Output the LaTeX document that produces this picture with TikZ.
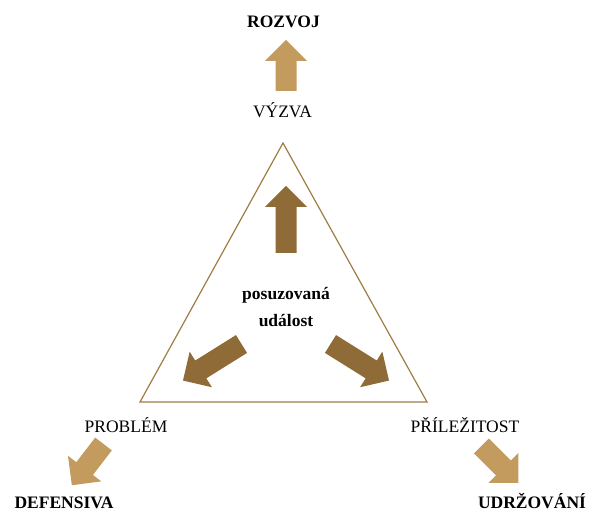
\documentclass[tikz,border=0pt]{standalone}
\usepackage{fontspec}
\setmainfont{Liberation Serif}
\definecolor{darkbr}{HTML}{8E6B37}
\definecolor{lightbr}{HTML}{C49B5E}
\definecolor{lineb}{HTML}{A07C45}
\newcommand\blockarr[5]{\fill[#5, shift={(#1,#2)}, rotate=#3] (0,-10.5) -- (#4-21,-10.5) -- (#4-21,-21) -- (#4,0) -- (#4-21,21) -- (#4-21,10.5) -- (0,10.5) -- cycle;}
\begin{document}
\begin{tikzpicture}[x=1pt,y=1pt,
  lbl/.style={anchor=base, inner sep=0pt, font=\fontsize{17.5}{20}\selectfont},
  blbl/.style={lbl, font=\fontsize{17.5}{20}\selectfont\bfseries}]
\useasboundingbox (0,0) rectangle (592,513);
\draw[lineb, line width=1.2pt, line join=miter] (283,370) coordinate (top) -- (140,111) coordinate (bl) -- (427,111) coordinate (br) -- cycle;
\blockarr{286}{422}{90}{51}{lightbr}
\blockarr{286}{260}{90}{67}{darkbr}
\blockarr{241.5}{169}{212}{69}{darkbr}
\blockarr{330.5}{169}{-32}{69}{darkbr}
\blockarr{103.5}{69}{232.5}{52}{lightbr}
\blockarr{481.5}{67}{-45}{52}{lightbr}
\node[blbl] (rozvoj) at (283.5,485) {ROZVOJ};
\node[lbl] (vyzva) at (282.5,395) {VÝZVA};
\node[blbl] (pos1) at (286,213) {posuzovaná};
\node[blbl] (pos2) at (286,186) {událost};
\node[lbl] (problem) at (126,80) {PROBLÉM};
\node[blbl] (def) at (64,4) {DEFENSIVA};
\node[lbl] (prilez) at (465,80) {PŘÍLEŽITOST};
\node[blbl] (udrz) at (532,4) {UDRŽOVÁNÍ};
\end{tikzpicture}
\end{document}
